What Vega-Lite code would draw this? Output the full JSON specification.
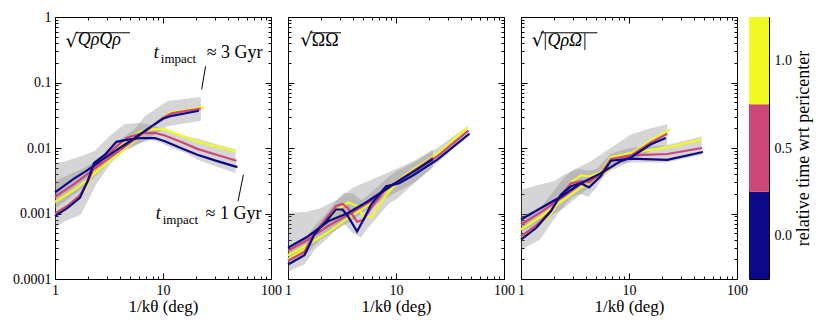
{
"$schema":"https://vega.github.io/schema/vega-lite/v6.json",
"padding":{"left":12,"top":9,"right":5,"bottom":5},
"background":"white",
"config":{
 "view":{"stroke":"black","strokeWidth":1},
 "font":"Liberation Serif",
 "axis":{"grid":false,"domain":false,"labelFont":"Liberation Serif","labelFontSize":14,"labelColor":"black","tickColor":"black","tickWidth":1,"titleFont":"Liberation Serif","titleFontSize":17,"titleFontWeight":"normal","titleColor":"black","labelFlush":false,"labelOverlap":false}
},
"datasets":{
 "lines":[
  {"p":"QQ","s":"A","t":"1.0","x":1,"y":0.0015},{"p":"QQ","s":"A","t":"1.0","x":1.5,"y":0.0023},{"p":"QQ","s":"A","t":"1.0","x":2,"y":0.0033},{"p":"QQ","s":"A","t":"1.0","x":2.5,"y":0.0045},{"p":"QQ","s":"A","t":"1.0","x":3,"y":0.0058},{"p":"QQ","s":"A","t":"1.0","x":4,"y":0.0085},{"p":"QQ","s":"A","t":"1.0","x":5,"y":0.0115},{"p":"QQ","s":"A","t":"1.0","x":6,"y":0.0145},{"p":"QQ","s":"A","t":"1.0","x":8,"y":0.021},{"p":"QQ","s":"A","t":"1.0","x":10,"y":0.029},{"p":"QQ","s":"A","t":"1.0","x":12,"y":0.035},{"p":"QQ","s":"A","t":"1.0","x":15,"y":0.037},{"p":"QQ","s":"A","t":"1.0","x":24,"y":0.042},
  {"p":"QQ","s":"B","t":"1.0","x":1,"y":0.00095},{"p":"QQ","s":"B","t":"1.0","x":1.3,"y":0.0012},{"p":"QQ","s":"B","t":"1.0","x":1.7,"y":0.0018},{"p":"QQ","s":"B","t":"1.0","x":2,"y":0.0028},{"p":"QQ","s":"B","t":"1.0","x":2.3,"y":0.0046},{"p":"QQ","s":"B","t":"1.0","x":2.9,"y":0.0066},{"p":"QQ","s":"B","t":"1.0","x":3.7,"y":0.0098},{"p":"QQ","s":"B","t":"1.0","x":4.7,"y":0.014},{"p":"QQ","s":"B","t":"1.0","x":6.3,"y":0.018},{"p":"QQ","s":"B","t":"1.0","x":8.4,"y":0.0195},{"p":"QQ","s":"B","t":"1.0","x":10.4,"y":0.0192},{"p":"QQ","s":"B","t":"1.0","x":14.6,"y":0.0155},{"p":"QQ","s":"B","t":"1.0","x":20.8,"y":0.0125},{"p":"QQ","s":"B","t":"1.0","x":31.8,"y":0.0105},{"p":"QQ","s":"B","t":"1.0","x":47,"y":0.0089},
  {"p":"QQ","s":"A","t":"0.5","x":1,"y":0.0018},{"p":"QQ","s":"A","t":"0.5","x":1.5,"y":0.0028},{"p":"QQ","s":"A","t":"0.5","x":2,"y":0.004},{"p":"QQ","s":"A","t":"0.5","x":2.5,"y":0.0053},{"p":"QQ","s":"A","t":"0.5","x":3,"y":0.0066},{"p":"QQ","s":"A","t":"0.5","x":4,"y":0.0093},{"p":"QQ","s":"A","t":"0.5","x":5,"y":0.0122},{"p":"QQ","s":"A","t":"0.5","x":6,"y":0.015},{"p":"QQ","s":"A","t":"0.5","x":8,"y":0.0215},{"p":"QQ","s":"A","t":"0.5","x":10,"y":0.029},{"p":"QQ","s":"A","t":"0.5","x":12,"y":0.034},{"p":"QQ","s":"A","t":"0.5","x":15,"y":0.036},{"p":"QQ","s":"A","t":"0.5","x":22.4,"y":0.04},
  {"p":"QQ","s":"B","t":"0.5","x":1,"y":0.001},{"p":"QQ","s":"B","t":"0.5","x":1.3,"y":0.0013},{"p":"QQ","s":"B","t":"0.5","x":1.7,"y":0.0019},{"p":"QQ","s":"B","t":"0.5","x":2,"y":0.003},{"p":"QQ","s":"B","t":"0.5","x":2.3,"y":0.005},{"p":"QQ","s":"B","t":"0.5","x":2.9,"y":0.0072},{"p":"QQ","s":"B","t":"0.5","x":3.7,"y":0.0105},{"p":"QQ","s":"B","t":"0.5","x":4.7,"y":0.0145},{"p":"QQ","s":"B","t":"0.5","x":6.3,"y":0.0168},{"p":"QQ","s":"B","t":"0.5","x":8.4,"y":0.017},{"p":"QQ","s":"B","t":"0.5","x":10.4,"y":0.0155},{"p":"QQ","s":"B","t":"0.5","x":14.6,"y":0.0125},{"p":"QQ","s":"B","t":"0.5","x":20.8,"y":0.0097},{"p":"QQ","s":"B","t":"0.5","x":31.8,"y":0.0078},{"p":"QQ","s":"B","t":"0.5","x":48,"y":0.0064},
  {"p":"QQ","s":"A","t":"0.0","x":1,"y":0.0021},{"p":"QQ","s":"A","t":"0.0","x":1.5,"y":0.0034},{"p":"QQ","s":"A","t":"0.0","x":2,"y":0.0046},{"p":"QQ","s":"A","t":"0.0","x":2.5,"y":0.006},{"p":"QQ","s":"A","t":"0.0","x":3,"y":0.0073},{"p":"QQ","s":"A","t":"0.0","x":4,"y":0.0101},{"p":"QQ","s":"A","t":"0.0","x":5,"y":0.0128},{"p":"QQ","s":"A","t":"0.0","x":6,"y":0.0158},{"p":"QQ","s":"A","t":"0.0","x":8,"y":0.022},{"p":"QQ","s":"A","t":"0.0","x":10,"y":0.028},{"p":"QQ","s":"A","t":"0.0","x":12,"y":0.031},{"p":"QQ","s":"A","t":"0.0","x":15,"y":0.033},{"p":"QQ","s":"A","t":"0.0","x":21.5,"y":0.037},
  {"p":"QQ","s":"B","t":"0.0","x":1,"y":0.00091},{"p":"QQ","s":"B","t":"0.0","x":1.3,"y":0.00121},{"p":"QQ","s":"B","t":"0.0","x":1.7,"y":0.00173},{"p":"QQ","s":"B","t":"0.0","x":2,"y":0.0031},{"p":"QQ","s":"B","t":"0.0","x":2.3,"y":0.0059},{"p":"QQ","s":"B","t":"0.0","x":2.9,"y":0.0079},{"p":"QQ","s":"B","t":"0.0","x":3.7,"y":0.0124},{"p":"QQ","s":"B","t":"0.0","x":4.7,"y":0.0134},{"p":"QQ","s":"B","t":"0.0","x":6.3,"y":0.0142},{"p":"QQ","s":"B","t":"0.0","x":8.4,"y":0.0142},{"p":"QQ","s":"B","t":"0.0","x":10.4,"y":0.0127},{"p":"QQ","s":"B","t":"0.0","x":14.6,"y":0.01},{"p":"QQ","s":"B","t":"0.0","x":20.8,"y":0.0079},{"p":"QQ","s":"B","t":"0.0","x":31.8,"y":0.0063},{"p":"QQ","s":"B","t":"0.0","x":48.8,"y":0.0051},

  {"p":"OO","s":"A","t":"1.0","x":1,"y":0.00023},{"p":"OO","s":"A","t":"1.0","x":1.54,"y":0.00034},{"p":"OO","s":"A","t":"1.0","x":2.36,"y":0.00052},{"p":"OO","s":"A","t":"1.0","x":3.6,"y":0.00085},{"p":"OO","s":"A","t":"1.0","x":5.5,"y":0.00135},{"p":"OO","s":"A","t":"1.0","x":8.4,"y":0.0023},{"p":"OO","s":"A","t":"1.0","x":10.4,"y":0.0032},{"p":"OO","s":"A","t":"1.0","x":15,"y":0.0048},{"p":"OO","s":"A","t":"1.0","x":22,"y":0.0074},
  {"p":"OO","s":"B","t":"1.0","x":1,"y":0.0002},{"p":"OO","s":"B","t":"1.0","x":1.42,"y":0.00028},{"p":"OO","s":"B","t":"1.0","x":1.76,"y":0.00045},{"p":"OO","s":"B","t":"1.0","x":2.26,"y":0.00075},{"p":"OO","s":"B","t":"1.0","x":2.79,"y":0.0011},{"p":"OO","s":"B","t":"1.0","x":3.2,"y":0.0013},{"p":"OO","s":"B","t":"1.0","x":3.6,"y":0.00148},{"p":"OO","s":"B","t":"1.0","x":4.36,"y":0.0013},{"p":"OO","s":"B","t":"1.0","x":5,"y":0.0009},{"p":"OO","s":"B","t":"1.0","x":5.87,"y":0.00088},{"p":"OO","s":"B","t":"1.0","x":8.1,"y":0.0019},{"p":"OO","s":"B","t":"1.0","x":10.7,"y":0.0033},{"p":"OO","s":"B","t":"1.0","x":14.7,"y":0.0048},{"p":"OO","s":"B","t":"1.0","x":24.3,"y":0.0082},{"p":"OO","s":"B","t":"1.0","x":46,"y":0.0207},
  {"p":"OO","s":"A","t":"0.5","x":1,"y":0.00027},{"p":"OO","s":"A","t":"0.5","x":1.54,"y":0.0004},{"p":"OO","s":"A","t":"0.5","x":2.36,"y":0.00065},{"p":"OO","s":"A","t":"0.5","x":3.6,"y":0.00095},{"p":"OO","s":"A","t":"0.5","x":5.5,"y":0.00145},{"p":"OO","s":"A","t":"0.5","x":8.4,"y":0.0024},{"p":"OO","s":"A","t":"0.5","x":10.4,"y":0.0031},{"p":"OO","s":"A","t":"0.5","x":15,"y":0.0046},{"p":"OO","s":"A","t":"0.5","x":22,"y":0.0071},
  {"p":"OO","s":"B","t":"0.5","x":1,"y":0.00019},{"p":"OO","s":"B","t":"0.5","x":1.42,"y":0.00026},{"p":"OO","s":"B","t":"0.5","x":1.76,"y":0.0005},{"p":"OO","s":"B","t":"0.5","x":2.26,"y":0.00085},{"p":"OO","s":"B","t":"0.5","x":2.79,"y":0.0013},{"p":"OO","s":"B","t":"0.5","x":3.2,"y":0.0014},{"p":"OO","s":"B","t":"0.5","x":3.6,"y":0.0012},{"p":"OO","s":"B","t":"0.5","x":4.36,"y":0.00075},{"p":"OO","s":"B","t":"0.5","x":5,"y":0.0008},{"p":"OO","s":"B","t":"0.5","x":5.87,"y":0.0012},{"p":"OO","s":"B","t":"0.5","x":8.1,"y":0.0024},{"p":"OO","s":"B","t":"0.5","x":10.7,"y":0.0032},{"p":"OO","s":"B","t":"0.5","x":14.7,"y":0.0045},{"p":"OO","s":"B","t":"0.5","x":24.3,"y":0.0075},{"p":"OO","s":"B","t":"0.5","x":47,"y":0.0185},
  {"p":"OO","s":"A","t":"0.0","x":1,"y":0.0003},{"p":"OO","s":"A","t":"0.0","x":1.54,"y":0.00045},{"p":"OO","s":"A","t":"0.0","x":2.36,"y":0.00076},{"p":"OO","s":"A","t":"0.0","x":3.6,"y":0.00102},{"p":"OO","s":"A","t":"0.0","x":5.5,"y":0.00154},{"p":"OO","s":"A","t":"0.0","x":8.4,"y":0.00245},{"p":"OO","s":"A","t":"0.0","x":10.4,"y":0.0031},{"p":"OO","s":"A","t":"0.0","x":15,"y":0.0045},{"p":"OO","s":"A","t":"0.0","x":22,"y":0.0068},
  {"p":"OO","s":"B","t":"0.0","x":1,"y":0.000166},{"p":"OO","s":"B","t":"0.0","x":1.42,"y":0.00023},{"p":"OO","s":"B","t":"0.0","x":1.76,"y":0.00048},{"p":"OO","s":"B","t":"0.0","x":2.26,"y":0.00076},{"p":"OO","s":"B","t":"0.0","x":2.79,"y":0.00115},{"p":"OO","s":"B","t":"0.0","x":3.2,"y":0.00115},{"p":"OO","s":"B","t":"0.0","x":3.6,"y":0.0009},{"p":"OO","s":"B","t":"0.0","x":4.36,"y":0.00053},{"p":"OO","s":"B","t":"0.0","x":5,"y":0.0008},{"p":"OO","s":"B","t":"0.0","x":5.87,"y":0.00137},{"p":"OO","s":"B","t":"0.0","x":8.1,"y":0.0026},{"p":"OO","s":"B","t":"0.0","x":10.7,"y":0.0029},{"p":"OO","s":"B","t":"0.0","x":14.7,"y":0.0039},{"p":"OO","s":"B","t":"0.0","x":24.3,"y":0.0067},{"p":"OO","s":"B","t":"0.0","x":48,"y":0.0166},

  {"p":"QO","s":"A","t":"1.0","x":1,"y":0.00057},{"p":"QO","s":"A","t":"1.0","x":1.53,"y":0.0009},{"p":"QO","s":"A","t":"1.0","x":2.34,"y":0.0015},{"p":"QO","s":"A","t":"1.0","x":3.58,"y":0.0025},{"p":"QO","s":"A","t":"1.0","x":5.45,"y":0.0038},{"p":"QO","s":"A","t":"1.0","x":8.4,"y":0.0064},{"p":"QO","s":"A","t":"1.0","x":10.3,"y":0.008},{"p":"QO","s":"A","t":"1.0","x":15.8,"y":0.013},{"p":"QO","s":"A","t":"1.0","x":23.9,"y":0.0191},
  {"p":"QO","s":"B","t":"1.0","x":1,"y":0.00045},{"p":"QO","s":"B","t":"1.0","x":1.38,"y":0.0006},{"p":"QO","s":"B","t":"1.0","x":1.89,"y":0.001},{"p":"QO","s":"B","t":"1.0","x":2.34,"y":0.0017},{"p":"QO","s":"B","t":"1.0","x":2.9,"y":0.003},{"p":"QO","s":"B","t":"1.0","x":3.58,"y":0.0038},{"p":"QO","s":"B","t":"1.0","x":4.27,"y":0.0037},{"p":"QO","s":"B","t":"1.0","x":5.45,"y":0.0042},{"p":"QO","s":"B","t":"1.0","x":6.8,"y":0.0072},{"p":"QO","s":"B","t":"1.0","x":10.3,"y":0.0084},{"p":"QO","s":"B","t":"1.0","x":22.6,"y":0.0102},{"p":"QO","s":"B","t":"1.0","x":46.6,"y":0.0134},
  {"p":"QO","s":"A","t":"0.5","x":1,"y":0.00068},{"p":"QO","s":"A","t":"0.5","x":1.53,"y":0.00105},{"p":"QO","s":"A","t":"0.5","x":2.34,"y":0.0017},{"p":"QO","s":"A","t":"0.5","x":3.58,"y":0.0028},{"p":"QO","s":"A","t":"0.5","x":5.45,"y":0.004},{"p":"QO","s":"A","t":"0.5","x":8.4,"y":0.0064},{"p":"QO","s":"A","t":"0.5","x":10.3,"y":0.0076},{"p":"QO","s":"A","t":"0.5","x":15.8,"y":0.012},{"p":"QO","s":"A","t":"0.5","x":22.6,"y":0.0165},
  {"p":"QO","s":"B","t":"0.5","x":1,"y":0.00045},{"p":"QO","s":"B","t":"0.5","x":1.38,"y":0.00065},{"p":"QO","s":"B","t":"0.5","x":1.89,"y":0.0011},{"p":"QO","s":"B","t":"0.5","x":2.34,"y":0.0019},{"p":"QO","s":"B","t":"0.5","x":2.9,"y":0.0029},{"p":"QO","s":"B","t":"0.5","x":3.58,"y":0.0031},{"p":"QO","s":"B","t":"0.5","x":4.27,"y":0.003},{"p":"QO","s":"B","t":"0.5","x":5.45,"y":0.004},{"p":"QO","s":"B","t":"0.5","x":6.8,"y":0.0068},{"p":"QO","s":"B","t":"0.5","x":10.3,"y":0.0077},{"p":"QO","s":"B","t":"0.5","x":22.6,"y":0.0081},{"p":"QO","s":"B","t":"0.5","x":47.5,"y":0.01},
  {"p":"QO","s":"A","t":"0.0","x":1,"y":0.00081},{"p":"QO","s":"A","t":"0.0","x":1.53,"y":0.00121},{"p":"QO","s":"A","t":"0.0","x":2.34,"y":0.0018},{"p":"QO","s":"A","t":"0.0","x":3.58,"y":0.0029},{"p":"QO","s":"A","t":"0.0","x":5.45,"y":0.0041},{"p":"QO","s":"A","t":"0.0","x":8.4,"y":0.0063},{"p":"QO","s":"A","t":"0.0","x":10.3,"y":0.0071},{"p":"QO","s":"A","t":"0.0","x":15.8,"y":0.0113},{"p":"QO","s":"A","t":"0.0","x":21.9,"y":0.0142},
  {"p":"QO","s":"B","t":"0.0","x":1,"y":0.0004},{"p":"QO","s":"B","t":"0.0","x":1.38,"y":0.0006},{"p":"QO","s":"B","t":"0.0","x":1.89,"y":0.00108},{"p":"QO","s":"B","t":"0.0","x":2.34,"y":0.00194},{"p":"QO","s":"B","t":"0.0","x":2.9,"y":0.0026},{"p":"QO","s":"B","t":"0.0","x":3.58,"y":0.0029},{"p":"QO","s":"B","t":"0.0","x":4.27,"y":0.0025},{"p":"QO","s":"B","t":"0.0","x":5.45,"y":0.0037},{"p":"QO","s":"B","t":"0.0","x":6.8,"y":0.0064},{"p":"QO","s":"B","t":"0.0","x":10.3,"y":0.0069},{"p":"QO","s":"B","t":"0.0","x":22.6,"y":0.0066},{"p":"QO","s":"B","t":"0.0","x":48.4,"y":0.0087}
 ],
 "bands":[
  {"p":"QQ","s":"A","x":1,"lo":0.0012,"hi":0.0031},{"p":"QQ","s":"A","x":1.86,"lo":0.0025,"hi":0.005},{"p":"QQ","s":"A","x":2.65,"lo":0.0045,"hi":0.0071},{"p":"QQ","s":"A","x":3.78,"lo":0.008,"hi":0.0127},{"p":"QQ","s":"A","x":5.4,"lo":0.0105,"hi":0.019},{"p":"QQ","s":"A","x":6.7,"lo":0.0127,"hi":0.03},{"p":"QQ","s":"A","x":11,"lo":0.0214,"hi":0.052},{"p":"QQ","s":"A","x":22.4,"lo":0.026,"hi":0.06},
  {"p":"QQ","s":"B","x":1,"lo":0.0006,"hi":0.0059},{"p":"QQ","s":"B","x":1.23,"lo":0.00076,"hi":0.0062},{"p":"QQ","s":"B","x":1.73,"lo":0.00096,"hi":0.0075},{"p":"QQ","s":"B","x":2.33,"lo":0.0025,"hi":0.009},{"p":"QQ","s":"B","x":2.47,"lo":0.003,"hi":0.01},{"p":"QQ","s":"B","x":3.3,"lo":0.0059,"hi":0.016},{"p":"QQ","s":"B","x":4.35,"lo":0.009,"hi":0.0228},{"p":"QQ","s":"B","x":4.74,"lo":0.01,"hi":0.0235},{"p":"QQ","s":"B","x":6.2,"lo":0.012,"hi":0.024},{"p":"QQ","s":"B","x":7.7,"lo":0.0134,"hi":0.0225},{"p":"QQ","s":"B","x":9.5,"lo":0.012,"hi":0.02},{"p":"QQ","s":"B","x":11,"lo":0.0106,"hi":0.0185},{"p":"QQ","s":"B","x":16.8,"lo":0.0082,"hi":0.015},{"p":"QQ","s":"B","x":20.8,"lo":0.0066,"hi":0.0138},{"p":"QQ","s":"B","x":47,"lo":0.0041,"hi":0.0095},
  {"p":"OO","s":"A","x":1,"lo":0.00018,"hi":0.00102},{"p":"OO","s":"A","x":1.5,"lo":0.00025,"hi":0.00106},{"p":"OO","s":"A","x":2,"lo":0.0004,"hi":0.0012},{"p":"OO","s":"A","x":3,"lo":0.0006,"hi":0.0017},{"p":"OO","s":"A","x":4,"lo":0.0008,"hi":0.0025},{"p":"OO","s":"A","x":6,"lo":0.0013,"hi":0.0033},{"p":"OO","s":"A","x":10,"lo":0.0021,"hi":0.0048},{"p":"OO","s":"A","x":15,"lo":0.003,"hi":0.0065},{"p":"OO","s":"A","x":22,"lo":0.005,"hi":0.0095},
  {"p":"OO","s":"B","x":1,"lo":0.00013,"hi":0.00028},{"p":"OO","s":"B","x":1.42,"lo":0.000166,"hi":0.0004},{"p":"OO","s":"B","x":1.76,"lo":0.00028,"hi":0.00065},{"p":"OO","s":"B","x":2.26,"lo":0.0004,"hi":0.001},{"p":"OO","s":"B","x":2.9,"lo":0.0006,"hi":0.0017},{"p":"OO","s":"B","x":3.3,"lo":0.0007,"hi":0.0021},{"p":"OO","s":"B","x":4,"lo":0.0005,"hi":0.002},{"p":"OO","s":"B","x":4.75,"lo":0.00043,"hi":0.0016},{"p":"OO","s":"B","x":5.5,"lo":0.0006,"hi":0.0019},{"p":"OO","s":"B","x":6.8,"lo":0.0009,"hi":0.0026},{"p":"OO","s":"B","x":8.5,"lo":0.0014,"hi":0.0036},{"p":"OO","s":"B","x":10.3,"lo":0.0017,"hi":0.0045},{"p":"OO","s":"B","x":14.7,"lo":0.0029,"hi":0.006},{"p":"OO","s":"B","x":24,"lo":0.0059,"hi":0.01},{"p":"OO","s":"B","x":46,"lo":0.015,"hi":0.0214},
  {"p":"QO","s":"A","x":1,"lo":0.00053,"hi":0.0023},{"p":"QO","s":"A","x":1.53,"lo":0.00072,"hi":0.0028},{"p":"QO","s":"A","x":2.03,"lo":0.001,"hi":0.0031},{"p":"QO","s":"A","x":2.51,"lo":0.00121,"hi":0.0039},{"p":"QO","s":"A","x":3.34,"lo":0.0018,"hi":0.005},{"p":"QO","s":"A","x":4.42,"lo":0.0026,"hi":0.0063},{"p":"QO","s":"A","x":6.77,"lo":0.0045,"hi":0.01},{"p":"QO","s":"A","x":10.3,"lo":0.0062,"hi":0.016},{"p":"QO","s":"A","x":15.8,"lo":0.009,"hi":0.02},{"p":"QO","s":"A","x":22.6,"lo":0.0113,"hi":0.0228},
  {"p":"QO","s":"B","x":1,"lo":0.00028,"hi":0.0009},{"p":"QO","s":"B","x":1.5,"lo":0.0004,"hi":0.0012},{"p":"QO","s":"B","x":2,"lo":0.0008,"hi":0.0022},{"p":"QO","s":"B","x":2.5,"lo":0.0013,"hi":0.0035},{"p":"QO","s":"B","x":3,"lo":0.0018,"hi":0.0045},{"p":"QO","s":"B","x":3.5,"lo":0.002,"hi":0.0048},{"p":"QO","s":"B","x":4.2,"lo":0.0018,"hi":0.0045},{"p":"QO","s":"B","x":5,"lo":0.0025,"hi":0.0048},{"p":"QO","s":"B","x":6.8,"lo":0.0055,"hi":0.0082},{"p":"QO","s":"B","x":10,"lo":0.006,"hi":0.01},{"p":"QO","s":"B","x":22,"lo":0.006,"hi":0.011},{"p":"QO","s":"B","x":47,"lo":0.0078,"hi":0.015}
 ],
 "notes":[
  {"p":"QQ","k":"rad","x":1.25,"y":0.344,"txt":"√"},
  {"p":"QQ","k":"it","x":1.62,"y":0.376,"txt":"QρQρ"},
  {"p":"QQ","k":"it","x":8.2,"y":0.234,"txt":"t"},
  {"p":"QQ","k":"sub","x":9.55,"y":0.196,"txt":"impact"},
  {"p":"QQ","k":"rm","x":25.4,"y":0.234,"txt":"≈ 3 Gyr"},
  {"p":"QQ","k":"it","x":8.56,"y":0.000816,"txt":"t"},
  {"p":"QQ","k":"sub","x":9.93,"y":0.000684,"txt":"impact"},
  {"p":"QQ","k":"rm","x":24.8,"y":0.000816,"txt":"≈ 1 Gyr"},
  {"p":"OO","k":"rad","x":1.3,"y":0.357,"txt":"√"},
  {"p":"OO","k":"rm","x":1.66,"y":0.357,"txt":"ΩΩ"},
  {"p":"QO","k":"rad","x":1.26,"y":0.357,"txt":"√"},
  {"p":"QO","k":"it","x":1.58,"y":0.357,"txt":"|QρΩ|"}
 ],
 "rules":[
  {"p":"QQ","x":1.59,"y":0.574,"x2":4.95,"y2":0.574},
  {"p":"QQ","x":24.8,"y":0.177,"x2":22.8,"y2":0.0787},
  {"p":"QQ","x":55.5,"y":0.0039,"x2":49.5,"y2":0.00154},
  {"p":"OO","x":1.61,"y":0.574,"x2":3.1,"y2":0.574},
  {"p":"QO","x":1.53,"y":0.574,"x2":5.1,"y2":0.574}
 ],
 "cbar":[{"lo":-0.25,"hi":0.25,"t":"0.0"},{"lo":0.25,"hi":0.75,"t":"0.5"},{"lo":0.75,"hi":1.25,"t":"1.0"}]
},
"hconcat":[
 {"hconcat":[
  {"width":216,"height":262,
   "resolve":{"axis":{"x":"independent","y":"independent"}},
   "layer":[
    {"data":{"name":"bands"},"transform":[{"filter":"datum.p=='QQ'"}],
     "mark":{"type":"area","color":"#808080","opacity":0.33},
     "encoding":{
      "x":{"field":"x","type":"quantitative","scale":{"type":"log","domain":[1,100],"nice":false},"axis":{"orient":"bottom","values":[1,2,3,4,5,6,7,8,9,10,20,30,40,50,60,70,80,90,100],"format":"~g","labelExpr":"indexof([1,10,100],datum.value)>=0 ? datum.label : ''","tickSize":{"condition":{"test":"indexof([1,10,100],datum.value)>=0","value":-6},"value":-3},"labelPadding":10,"title":"1/kθ (deg)","titlePadding":-2}},
      "y":{"field":"lo","type":"quantitative","scale":{"type":"log","domain":[0.0001,1],"nice":false},"axis":{"orient":"left","values":[0.0001,0.0002,0.0003,0.0004,0.0005,0.0006,0.0007,0.0008,0.0009,0.001,0.002,0.003,0.004,0.005,0.006,0.007,0.008,0.009,0.01,0.02,0.03,0.04,0.05,0.06,0.07,0.08,0.09,0.1,0.2,0.3,0.4,0.5,0.6,0.7,0.8,0.9,1],"format":"~g","labelExpr":"indexof([0.0001,0.001,0.01,0.1,1],datum.value)>=0 ? datum.label : ''","tickSize":{"condition":{"test":"indexof([0.0001,0.001,0.01,0.1,1],datum.value)>=0","value":-6},"value":-3},"labelPadding":10,"title":null}},
      "y2":{"field":"hi"},
      "detail":{"field":"s"}}},
    {"data":{"name":"lines"},"transform":[{"filter":"datum.p=='QQ'"}],
     "mark":{"type":"line","strokeWidth":2.2},
     "encoding":{
      "x":{"field":"x","type":"quantitative","scale":{"type":"log","domain":[1,100],"nice":false},"axis":{"orient":"top","values":[1,2,3,4,5,6,7,8,9,10,20,30,40,50,60,70,80,90,100],"labels":false,"tickSize":{"condition":{"test":"indexof([1,10,100],datum.value)>=0","value":-6},"value":-3},"title":null}},
      "y":{"field":"y","type":"quantitative","scale":{"type":"log","domain":[0.0001,1],"nice":false},"axis":{"orient":"right","values":[0.0001,0.0002,0.0003,0.0004,0.0005,0.0006,0.0007,0.0008,0.0009,0.001,0.002,0.003,0.004,0.005,0.006,0.007,0.008,0.009,0.01,0.02,0.03,0.04,0.05,0.06,0.07,0.08,0.09,0.1,0.2,0.3,0.4,0.5,0.6,0.7,0.8,0.9,1],"labels":false,"tickSize":{"condition":{"test":"indexof([0.0001,0.001,0.01,0.1,1],datum.value)>=0","value":-6},"value":-3},"title":null}},
      "color":{"field":"t","type":"nominal","scale":{"domain":["1.0","0.5","0.0"],"range":["#f0f921","#cc4778","#0d0887"]},"legend":null},
      "detail":{"field":"s"}}},
    {"data":{"name":"rules"},"transform":[{"filter":"datum.p=='QQ'"}],
     "mark":{"type":"rule","color":"black","strokeWidth":1},
     "encoding":{
      "x":{"field":"x","type":"quantitative","scale":{"type":"log","domain":[1,100],"nice":false},"axis":null},
      "y":{"field":"y","type":"quantitative","scale":{"type":"log","domain":[0.0001,1],"nice":false},"axis":null},
      "x2":{"field":"x2"},"y2":{"field":"y2"}}},
    {"data":{"name":"notes"},"transform":[{"filter":"datum.p=='QQ' && datum.k=='it'"}],
     "mark":{"type":"text","font":"Liberation Serif","fontSize":18,"fontStyle":"italic","align":"left","baseline":"alphabetic","color":"black"},
     "encoding":{
      "x":{"field":"x","type":"quantitative","scale":{"type":"log","domain":[1,100],"nice":false},"axis":null},
      "y":{"field":"y","type":"quantitative","scale":{"type":"log","domain":[0.0001,1],"nice":false},"axis":null},
      "text":{"field":"txt"}}},
    {"data":{"name":"notes"},"transform":[{"filter":"datum.p=='QQ' && datum.k=='rm'"}],
     "mark":{"type":"text","font":"Liberation Serif","fontSize":18,"align":"left","baseline":"alphabetic","color":"black"},
     "encoding":{
      "x":{"field":"x","type":"quantitative","scale":{"type":"log","domain":[1,100],"nice":false},"axis":null},
      "y":{"field":"y","type":"quantitative","scale":{"type":"log","domain":[0.0001,1],"nice":false},"axis":null},
      "text":{"field":"txt"}}},
    {"data":{"name":"notes"},"transform":[{"filter":"datum.p=='QQ' && datum.k=='sub'"}],
     "mark":{"type":"text","font":"Liberation Serif","fontSize":13,"align":"left","baseline":"alphabetic","color":"black"},
     "encoding":{
      "x":{"field":"x","type":"quantitative","scale":{"type":"log","domain":[1,100],"nice":false},"axis":null},
      "y":{"field":"y","type":"quantitative","scale":{"type":"log","domain":[0.0001,1],"nice":false},"axis":null},
      "text":{"field":"txt"}}},
    {"data":{"name":"notes"},"transform":[{"filter":"datum.p=='QQ' && datum.k=='rad'"}],
     "mark":{"type":"text","font":"DejaVu Serif","fontSize":19,"align":"left","baseline":"alphabetic","color":"black"},
     "encoding":{
      "x":{"field":"x","type":"quantitative","scale":{"type":"log","domain":[1,100],"nice":false},"axis":null},
      "y":{"field":"y","type":"quantitative","scale":{"type":"log","domain":[0.0001,1],"nice":false},"axis":null},
      "text":{"field":"txt"}}}
   ]},
  {"width":216,"height":262,
   "resolve":{"axis":{"x":"independent","y":"independent"}},
   "layer":[
    {"data":{"name":"bands"},"transform":[{"filter":"datum.p=='OO'"}],
     "mark":{"type":"area","color":"#808080","opacity":0.33},
     "encoding":{
      "x":{"field":"x","type":"quantitative","scale":{"type":"log","domain":[1,100],"nice":false},"axis":{"orient":"bottom","values":[1,2,3,4,5,6,7,8,9,10,20,30,40,50,60,70,80,90,100],"format":"~g","labelExpr":"indexof([1,10,100],datum.value)>=0 ? datum.label : ''","tickSize":{"condition":{"test":"indexof([1,10,100],datum.value)>=0","value":-6},"value":-3},"labelPadding":10,"title":"1/kθ (deg)","titlePadding":-2}},
      "y":{"field":"lo","type":"quantitative","scale":{"type":"log","domain":[0.0001,1],"nice":false},"axis":{"orient":"left","values":[0.0001,0.0002,0.0003,0.0004,0.0005,0.0006,0.0007,0.0008,0.0009,0.001,0.002,0.003,0.004,0.005,0.006,0.007,0.008,0.009,0.01,0.02,0.03,0.04,0.05,0.06,0.07,0.08,0.09,0.1,0.2,0.3,0.4,0.5,0.6,0.7,0.8,0.9,1],"labels":false,"tickSize":{"condition":{"test":"indexof([0.0001,0.001,0.01,0.1,1],datum.value)>=0","value":-6},"value":-3},"title":null}},
      "y2":{"field":"hi"},
      "detail":{"field":"s"}}},
    {"data":{"name":"lines"},"transform":[{"filter":"datum.p=='OO'"}],
     "mark":{"type":"line","strokeWidth":2.2},
     "encoding":{
      "x":{"field":"x","type":"quantitative","scale":{"type":"log","domain":[1,100],"nice":false},"axis":{"orient":"top","values":[1,2,3,4,5,6,7,8,9,10,20,30,40,50,60,70,80,90,100],"labels":false,"tickSize":{"condition":{"test":"indexof([1,10,100],datum.value)>=0","value":-6},"value":-3},"title":null}},
      "y":{"field":"y","type":"quantitative","scale":{"type":"log","domain":[0.0001,1],"nice":false},"axis":{"orient":"right","values":[0.0001,0.0002,0.0003,0.0004,0.0005,0.0006,0.0007,0.0008,0.0009,0.001,0.002,0.003,0.004,0.005,0.006,0.007,0.008,0.009,0.01,0.02,0.03,0.04,0.05,0.06,0.07,0.08,0.09,0.1,0.2,0.3,0.4,0.5,0.6,0.7,0.8,0.9,1],"labels":false,"tickSize":{"condition":{"test":"indexof([0.0001,0.001,0.01,0.1,1],datum.value)>=0","value":-6},"value":-3},"title":null}},
      "color":{"field":"t","type":"nominal","scale":{"domain":["1.0","0.5","0.0"],"range":["#f0f921","#cc4778","#0d0887"]},"legend":null},
      "detail":{"field":"s"}}},
    {"data":{"name":"rules"},"transform":[{"filter":"datum.p=='OO'"}],
     "mark":{"type":"rule","color":"black","strokeWidth":1},
     "encoding":{
      "x":{"field":"x","type":"quantitative","scale":{"type":"log","domain":[1,100],"nice":false},"axis":null},
      "y":{"field":"y","type":"quantitative","scale":{"type":"log","domain":[0.0001,1],"nice":false},"axis":null},
      "x2":{"field":"x2"},"y2":{"field":"y2"}}},
    {"data":{"name":"notes"},"transform":[{"filter":"datum.p=='OO' && datum.k=='rm'"}],
     "mark":{"type":"text","font":"Liberation Serif","fontSize":18,"align":"left","baseline":"alphabetic","color":"black"},
     "encoding":{
      "x":{"field":"x","type":"quantitative","scale":{"type":"log","domain":[1,100],"nice":false},"axis":null},
      "y":{"field":"y","type":"quantitative","scale":{"type":"log","domain":[0.0001,1],"nice":false},"axis":null},
      "text":{"field":"txt"}}},
    {"data":{"name":"notes"},"transform":[{"filter":"datum.p=='OO' && datum.k=='rad'"}],
     "mark":{"type":"text","font":"DejaVu Serif","fontSize":19,"align":"left","baseline":"alphabetic","color":"black"},
     "encoding":{
      "x":{"field":"x","type":"quantitative","scale":{"type":"log","domain":[1,100],"nice":false},"axis":null},
      "y":{"field":"y","type":"quantitative","scale":{"type":"log","domain":[0.0001,1],"nice":false},"axis":null},
      "text":{"field":"txt"}}}
   ]},
  {"width":216,"height":262,
   "resolve":{"axis":{"x":"independent","y":"independent"}},
   "layer":[
    {"data":{"name":"bands"},"transform":[{"filter":"datum.p=='QO'"}],
     "mark":{"type":"area","color":"#808080","opacity":0.33},
     "encoding":{
      "x":{"field":"x","type":"quantitative","scale":{"type":"log","domain":[1,100],"nice":false},"axis":{"orient":"bottom","values":[1,2,3,4,5,6,7,8,9,10,20,30,40,50,60,70,80,90,100],"format":"~g","labelExpr":"indexof([1,10,100],datum.value)>=0 ? datum.label : ''","tickSize":{"condition":{"test":"indexof([1,10,100],datum.value)>=0","value":-6},"value":-3},"labelPadding":10,"title":"1/kθ (deg)","titlePadding":-2}},
      "y":{"field":"lo","type":"quantitative","scale":{"type":"log","domain":[0.0001,1],"nice":false},"axis":{"orient":"left","values":[0.0001,0.0002,0.0003,0.0004,0.0005,0.0006,0.0007,0.0008,0.0009,0.001,0.002,0.003,0.004,0.005,0.006,0.007,0.008,0.009,0.01,0.02,0.03,0.04,0.05,0.06,0.07,0.08,0.09,0.1,0.2,0.3,0.4,0.5,0.6,0.7,0.8,0.9,1],"labels":false,"tickSize":{"condition":{"test":"indexof([0.0001,0.001,0.01,0.1,1],datum.value)>=0","value":-6},"value":-3},"title":null}},
      "y2":{"field":"hi"},
      "detail":{"field":"s"}}},
    {"data":{"name":"lines"},"transform":[{"filter":"datum.p=='QO'"}],
     "mark":{"type":"line","strokeWidth":2.2},
     "encoding":{
      "x":{"field":"x","type":"quantitative","scale":{"type":"log","domain":[1,100],"nice":false},"axis":{"orient":"top","values":[1,2,3,4,5,6,7,8,9,10,20,30,40,50,60,70,80,90,100],"labels":false,"tickSize":{"condition":{"test":"indexof([1,10,100],datum.value)>=0","value":-6},"value":-3},"title":null}},
      "y":{"field":"y","type":"quantitative","scale":{"type":"log","domain":[0.0001,1],"nice":false},"axis":{"orient":"right","values":[0.0001,0.0002,0.0003,0.0004,0.0005,0.0006,0.0007,0.0008,0.0009,0.001,0.002,0.003,0.004,0.005,0.006,0.007,0.008,0.009,0.01,0.02,0.03,0.04,0.05,0.06,0.07,0.08,0.09,0.1,0.2,0.3,0.4,0.5,0.6,0.7,0.8,0.9,1],"labels":false,"tickSize":{"condition":{"test":"indexof([0.0001,0.001,0.01,0.1,1],datum.value)>=0","value":-6},"value":-3},"title":null}},
      "color":{"field":"t","type":"nominal","scale":{"domain":["1.0","0.5","0.0"],"range":["#f0f921","#cc4778","#0d0887"]},"legend":null},
      "detail":{"field":"s"}}},
    {"data":{"name":"rules"},"transform":[{"filter":"datum.p=='QO'"}],
     "mark":{"type":"rule","color":"black","strokeWidth":1},
     "encoding":{
      "x":{"field":"x","type":"quantitative","scale":{"type":"log","domain":[1,100],"nice":false},"axis":null},
      "y":{"field":"y","type":"quantitative","scale":{"type":"log","domain":[0.0001,1],"nice":false},"axis":null},
      "x2":{"field":"x2"},"y2":{"field":"y2"}}},
    {"data":{"name":"notes"},"transform":[{"filter":"datum.p=='QO' && datum.k=='it'"}],
     "mark":{"type":"text","font":"Liberation Serif","fontSize":18,"fontStyle":"italic","align":"left","baseline":"alphabetic","color":"black"},
     "encoding":{
      "x":{"field":"x","type":"quantitative","scale":{"type":"log","domain":[1,100],"nice":false},"axis":null},
      "y":{"field":"y","type":"quantitative","scale":{"type":"log","domain":[0.0001,1],"nice":false},"axis":null},
      "text":{"field":"txt"}}},
    {"data":{"name":"notes"},"transform":[{"filter":"datum.p=='QO' && datum.k=='rad'"}],
     "mark":{"type":"text","font":"DejaVu Serif","fontSize":19,"align":"left","baseline":"alphabetic","color":"black"},
     "encoding":{
      "x":{"field":"x","type":"quantitative","scale":{"type":"log","domain":[1,100],"nice":false},"axis":null},
      "y":{"field":"y","type":"quantitative","scale":{"type":"log","domain":[0.0001,1],"nice":false},"axis":null},
      "text":{"field":"txt"}}}
   ]}
 ],"spacing":17,"bounds":"flush"},
 {"width":20,"height":262,
  "data":{"name":"cbar"},
  "mark":{"type":"rect"},
  "encoding":{
   "y":{"field":"lo","type":"quantitative","scale":{"domain":[-0.25,1.25],"nice":false,"zero":false},"axis":{"orient":"right","values":[0,0.5,1],"format":".1f","tickSize":-3,"labelPadding":8,"title":"relative time wrt pericenter","titleFontSize":18,"titleAngle":270,"titleBaseline":"top","titlePadding":3}},
   "y2":{"field":"hi"},
   "color":{"field":"t","type":"nominal","scale":{"domain":["1.0","0.5","0.0"],"range":["#f0f921","#cc4778","#0d0887"]},"legend":null}}}
],
"spacing":0,"bounds":"full"
}
